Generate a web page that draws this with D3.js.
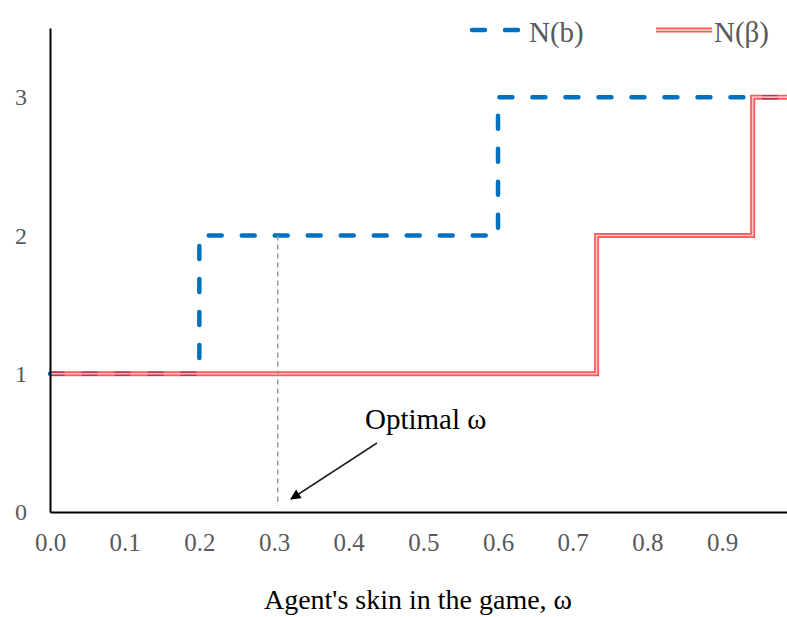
<!DOCTYPE html>
<html><head><meta charset="utf-8">
<script src="https://cdn.jsdelivr.net/npm/d3@7"></script>
<style>body{margin:0;background:#fff}svg{display:block}
svg text{font-family:"Liberation Serif",serif;}</style>
</head><body>
<svg id="c" width="787" height="617"></svg>
<script>
// Data
const xTicks = [0.0,0.1,0.2,0.3,0.4,0.5,0.6,0.7,0.8,0.9];
const yTicks = [0,1,2,3];
const xMax = 0.987;
const nbX = [0, 0.2, 0.6, xMax];
const nbY = [1, 2, 3, 3];
const nBetaX = [0, 0.732, 0.941, xMax];
const nBetaY = [1, 2, 3, 3];
const optimalOmega = 0.305;
const seriesNames = ["N(b)", "N(β)"];

const svg = d3.select("#c");
const x = d3.scaleLinear().domain([0, xMax]).range([50, 787]);
const y = d3.scaleLinear().domain([0, 3.5]).range([512, 28]);
const serif = "Liberation Serif";

const line = d3.line().x(d=>x(d[0])).y(d=>y(d[1])).curve(d3.curveStepAfter);

// Blue dashed
svg.append("path").datum(nbX.map((v,i)=>[v,nbY[i]]))
  .attr("d", line).attr("fill","none").attr("stroke","#0070C0")
  .attr("stroke-width",4.5).attr("stroke-dasharray","13,20").attr("stroke-linecap","round");

// Red double line
const redData = nBetaX.map((v,i)=>[v,nBetaY[i]]);
svg.append("path").datum(redData).attr("d", line).attr("fill","none")
  .attr("stroke","#FF2020").attr("stroke-opacity",0.75).attr("stroke-width",5);
svg.append("path").datum(redData).attr("d", line).attr("fill","none")
  .attr("stroke","#FFE0E0").attr("stroke-opacity",0.8).attr("stroke-width",1.6);

// Optimal dashed grey line
svg.append("line").attr("x1",x(optimalOmega)).attr("x2",x(optimalOmega))
  .attr("y1",y(2)).attr("y2",y(0)-6)
  .attr("stroke","#999").attr("stroke-width",1.5).attr("stroke-dasharray","5,4");

// Axes
const xAxis = svg.append("g").attr("transform",`translate(0,${y(0)})`)
  .call(d3.axisBottom(x).tickValues(xTicks).tickSize(0).tickPadding(21).tickFormat(d3.format(".1f")));
xAxis.attr("font-family",serif).attr("font-size",25);
xAxis.select(".domain").attr("stroke","#000").attr("stroke-width",2);
xAxis.selectAll("text").style("font-family",serif).style("font-size","25px").attr("fill","#595959");

const yAxis = svg.append("g").attr("transform",`translate(${x(0)},0)`)
  .call(d3.axisLeft(y).tickValues(yTicks).tickSize(0).tickPadding(23).tickFormat(d3.format("d")));
yAxis.attr("font-family",serif).attr("font-size",24);
yAxis.select(".domain").attr("stroke","#000").attr("stroke-width",2);
yAxis.selectAll("text").style("font-family",serif).style("font-size","24px").attr("fill","#595959");

// Axis title
svg.append("text").attr("x",418).attr("y",609).attr("text-anchor","middle")
  .style("font-family",serif).style("font-size","28px").attr("fill","#000")
  .text("Agent's skin in the game, ω");

// Annotation
svg.append("defs").append("marker").attr("id","ah").attr("viewBox","0 0 10 10")
  .attr("refX",9).attr("refY",5).attr("markerWidth",8).attr("markerHeight",7)
  .attr("orient","auto").append("path").attr("d","M0,0L10,5L0,10z").attr("fill","#000");
svg.append("line").attr("x1",377).attr("y1",443).attr("x2",291).attr("y2",499)
  .attr("stroke","#222").attr("stroke-width",1.5).attr("marker-end","url(#ah)");
svg.append("text").attr("x",365).attr("y",429)
  .style("font-family",serif).style("font-size","29px").attr("fill","#000").text("Optimal ω");

// Legend
const lg = svg.append("g");
lg.append("line").attr("x1",472).attr("x2",520).attr("y1",30).attr("y2",30)
  .attr("stroke","#0070C0").attr("stroke-width",4.5).attr("stroke-dasharray","13,20").attr("stroke-linecap","round");
lg.append("text").attr("x",529).attr("y",42).style("font-family",serif).style("font-size","29px")
  .attr("fill","#595959").text(seriesNames[0]);
lg.append("line").attr("x1",656).attr("x2",712).attr("y1",30).attr("y2",30)
  .attr("stroke","#FF2020").attr("stroke-opacity",0.75).attr("stroke-width",5);
lg.append("line").attr("x1",656).attr("x2",712).attr("y1",30).attr("y2",30)
  .attr("stroke","#FFE0E0").attr("stroke-width",1.6);
lg.append("text").attr("x",714).attr("y",42).style("font-family",serif).style("font-size","29px")
  .attr("fill","#595959").text(seriesNames[1]);
</script>
</body></html>
